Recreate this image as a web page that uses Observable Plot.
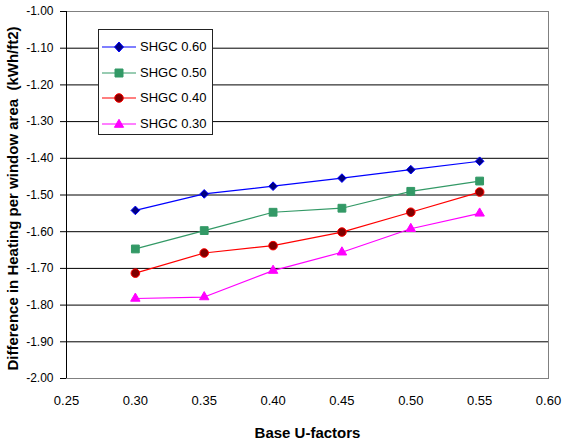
<!DOCTYPE html>
<html>
<head>
<meta charset="utf-8">
<script src="https://cdn.jsdelivr.net/npm/d3@7"></script>
<script src="https://cdn.jsdelivr.net/npm/@observablehq/plot@0.6"></script>
<style>
  html, body { margin: 0; padding: 0; background: #fff; }
  #wrap { position: relative; width: 564px; height: 444px; font-family: "Liberation Sans", Arial, sans-serif; }
  #legend { position: absolute; left: 98px; top: 29px; width: 113px; height: 104px; border: 1px solid #222; background: #fff; }
  .row { position: absolute; left: 0; height: 20px; width: 113px; }
  .row svg { position: absolute; left: 0; top: 0; }
  .row span { position: absolute; left: 41px; top: 2px; font-size: 13px; color: #000; white-space: nowrap; }
</style>
</head>
<body>
<div id="wrap">
  <div id="chart"></div>
  <div id="legend"></div>
</div>
<script>
// ---- data ----
const uFactors = [0.30, 0.35, 0.40, 0.45, 0.50, 0.55];
const shgc060 = [-1.542, -1.497, -1.476, -1.454, -1.431, -1.408];
const shgc050 = [-1.647, -1.597, -1.547, -1.536, -1.490, -1.462];
const shgc040 = [-1.713, -1.658, -1.638, -1.601, -1.547, -1.492];
const shgc030 = [-1.782, -1.778, -1.706, -1.656, -1.592, -1.550];
const seriesNames = ["SHGC 0.60", "SHGC 0.50", "SHGC 0.40", "SHGC 0.30"];
const xTicks = [0.25, 0.30, 0.35, 0.40, 0.45, 0.50, 0.55, 0.60];
const yTicks = [-1.00, -1.10, -1.20, -1.30, -1.40, -1.50, -1.60, -1.70, -1.80, -1.90, -2.00];
const xTitle = "Base U-factors";
const yTitle = "Difference in Heating per window area  (kWh/ft2)";

const seriesValues = [shgc060, shgc050, shgc040, shgc030];
const lineColors = ["#0000ff", "#339966", "#ff0000", "#ff00ff"];
const markerFill = ["#000080", "#339966", "#800000", "#ff00ff"];
const markerStroke = ["#0000ff", "#339966", "#ff0000", "#ff00ff"];
const symbols = ["diamond2", "square", "circle", "triangle"];
const radii = [3.9, 4.4, 4.3, 3.5];

const rows = [];
seriesNames.forEach((s, i) => uFactors.forEach((u, j) => rows.push({series: s, u, v: seriesValues[i][j]})));

const marks = [
  Plot.ruleY(yTicks, {stroke: "#000", strokeWidth: 1}),
  Plot.frame({stroke: "#808080", strokeWidth: 1}),
  Plot.ruleX([0.25], {stroke: "#000", strokeWidth: 1}),
  Plot.axisY({ticks: yTicks, tickFormat: d => d.toFixed(2), tickSize: 6, tickPadding: 7, fontSize: 12, label: null}),
  Plot.axisX({ticks: xTicks, tickFormat: d => d.toFixed(2), tickSize: 0, tickPadding: 17, fontSize: 13, label: null}),
  Plot.text([xTitle], {frameAnchor: "bottom", dy: 55, lineAnchor: "middle", fontWeight: "bold", fontSize: 15}),
  Plot.text([yTitle], {frameAnchor: "left", dx: -53.5, dy: 3.5, rotate: -90, textAnchor: "middle", lineAnchor: "middle", fontWeight: "bold", fontSize: 15, letterSpacing: "0.3px"})
];
seriesNames.forEach((s, i) => {
  const data = rows.filter(r => r.series === s);
  marks.push(Plot.line(data, {x: "u", y: "v", stroke: lineColors[i], strokeWidth: 1.2}));
});
seriesNames.forEach((s, i) => {
  const data = rows.filter(r => r.series === s);
  marks.push(Plot.dot(data, {x: "u", y: "v", symbol: () => symbols[i], r: radii[i], fill: markerFill[i], stroke: markerStroke[i], strokeWidth: 1}));
});

const chart = Plot.plot({
  width: 564, height: 444,
  marginLeft: 66, marginRight: 16, marginTop: 11, marginBottom: 66,
  style: {fontFamily: "'Liberation Sans', Arial, sans-serif", color: "#000", background: "#fff", fontSize: "12px"},
  x: {domain: [0.25, 0.60]},
  y: {domain: [-2.0, -1.0]},
  symbol: {type: "identity"},
  marks
});
document.getElementById("chart").appendChild(chart);

// ---- legend (HTML overlay) ----
const legend = document.getElementById("legend");
const symPaths = {
  diamond2: "M0,-5L4.5,0L0,5L-4.5,0Z",
  square: "M-4,-4H4V4H-4Z",
  circle: "M4.3,0A4.3,4.3 0 1 1 -4.3,0A4.3,4.3 0 1 1 4.3,0Z",
  triangle: "M0,-4.7L4.6,3.3L-4.6,3.3Z"
};
seriesNames.forEach((s, i) => {
  const row = document.createElement("div");
  row.className = "row";
  row.style.top = (7 + i * 25.5) + "px";
  row.innerHTML = `<svg width="40" height="20"><line x1="3" x2="37" y1="10" y2="10" stroke="${lineColors[i]}" stroke-width="1.2"/><path transform="translate(20,10)" d="${symPaths[symbols[i]]}" fill="${markerFill[i]}" stroke="${markerStroke[i]}"/></svg><span>${s}</span>`;
  legend.appendChild(row);
});
</script>
</body>
</html>
